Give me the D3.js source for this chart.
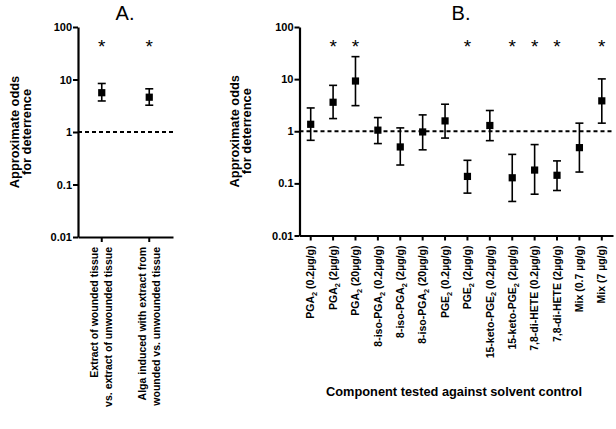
<!DOCTYPE html>
<html><head><meta charset="utf-8">
<script src="https://cdn.jsdelivr.net/npm/d3@7"></script>
<style>body{margin:0;background:#fff}svg{display:block}text{font-family:"Liberation Sans",Arial,sans-serif}</style>
</head><body><svg id="c" width="616" height="429"></svg>
<script>
// Panel A data
const catsA = ["Extract of wounded tissue|vs. extract of unwounded tissue", "Alga induced with extract from|wounded vs. unwounded tissue"];
const oddsA = [5.6, 4.6];
const upperA = [8.4, 6.65];
const lowerA = [3.9, 3.24];
const sigA = [true, true];

// Panel B data
const catsB = ["PGA_2 (0.2µg/g)", "PGA_2 (2µg/g)", "PGA_2 (20µg/g)", "8-iso-PGA_2 (0.2µg/g)", "8-iso-PGA_2 (2µg/g)", "8-iso-PGA_2 (20µg/g)", "PGE_2 (0.2µg/g)", "PGE_2 (2µg/g)", "15-keto-PGE_2 (0.2µg/g)", "15-keto-PGE_2 (2µg/g)", "7,8-di-HETE (0.2µg/g)", "7,8-di-HETE (2µg/g)", "Mix (0.7 µg/g)", "Mix (7 µg/g)"];
const oddsB = [1.36, 3.6, 9.2, 1.05, 0.5, 0.97, 1.58, 0.136, 1.29, 0.128, 0.18, 0.143, 0.485, 3.83];
const upperB = [2.8, 7.6, 27, 1.83, 1.16, 2.06, 3.3, 0.277, 2.5, 0.36, 0.555, 0.27, 1.43, 10.1];
const lowerB = [0.67, 1.75, 3.1, 0.58, 0.225, 0.44, 0.74, 0.065, 0.66, 0.045, 0.062, 0.073, 0.165, 1.43];
const sigB = [false, true, true, false, false, false, false, true, false, true, true, true, false, true];

const yTicks = [0.01, 0.1, 1, 10, 100];
const yTickLabels = ["0.01", "0.1", "1", "10", "100"];
const yTitle = ["Approximate odds", "for deterrence"];
const xTitleB = "Component tested against solvent control";
const panelTitles = ["A.", "B."];

const svg = d3.select("#c");
const font = '"Liberation Sans",Arial,sans-serif';

function subText(sel, str, size) {
  const parts = str.split("_");
  sel.append("tspan").text(parts[0]);
  for (let i = 1; i < parts.length; i++) {
    const p = parts[i];
    sel.append("tspan").attr("font-size", size * 0.7).attr("dy", size * 0.28).text(p[0]);
    sel.append("tspan").attr("dy", -size * 0.28).text(p.slice(1));
  }
}

function panel(cfg) {
  const g = svg.append("g");
  const y = d3.scaleLog().domain([0.01, 100]).range([cfg.bottom, cfg.top]);
  const x = d3.scaleBand().domain(cfg.cats).range([cfg.left, cfg.right]);
  const cx = d => x(d) + x.bandwidth() / 2;

  // reference line at 1
  g.append("line").attr("x1", cfg.left).attr("x2", cfg.right)
    .attr("y1", y(1)).attr("y2", y(1))
    .attr("stroke", "#000").attr("stroke-width", 2).attr("stroke-dasharray", "4,3");

  // y axis
  const ya = g.append("g").attr("transform", `translate(${cfg.left},0)`)
    .call(d3.axisLeft(y).tickValues(yTicks).tickFormat((d, i) => yTickLabels[i]).tickSize(5).tickSizeOuter(0));
  ya.select(".domain").attr("stroke-width", 2.2);
  ya.selectAll(".tick line").attr("stroke-width", 2);
  ya.selectAll(".tick text").attr("font-family", font).attr("font-weight", "bold").attr("font-size", 11).attr("fill", "#000").attr("x", -6);

  // x axis
  const xa = g.append("g").attr("transform", `translate(0,${cfg.bottom})`)
    .call(d3.axisBottom(x).tickSize(5).tickSizeOuter(0).tickFormat(""));
  xa.select(".domain").attr("stroke-width", 2.2);
  xa.selectAll(".tick line").attr("stroke-width", 2);

  // x labels
  cfg.cats.forEach((c, i) => {
    const lines = c.split("|");
    lines.forEach((ln, j) => {
      const off = (j - (lines.length - 1) / 2) * cfg.lineGap;
      const t = g.append("text")
        .attr("transform", `translate(${cx(c) + off},${cfg.bottom + 10}) rotate(-90)`)
        .attr("text-anchor", "end").attr("dy", "0.35em")
        .attr("font-weight", "bold").attr("font-size", cfg.labelSize).attr("fill", "#000");
      subText(t, ln, cfg.labelSize);
    });
  });

  // error bars
  const eb = g.append("g").attr("stroke", "#000").attr("stroke-width", 1.6);
  cfg.cats.forEach((c, i) => {
    eb.append("line").attr("x1", cx(c)).attr("x2", cx(c)).attr("y1", y(cfg.upper[i])).attr("y2", y(cfg.lower[i]));
    eb.append("line").attr("x1", cx(c) - 4).attr("x2", cx(c) + 4).attr("y1", y(cfg.upper[i])).attr("y2", y(cfg.upper[i]));
    eb.append("line").attr("x1", cx(c) - 4).attr("x2", cx(c) + 4).attr("y1", y(cfg.lower[i])).attr("y2", y(cfg.lower[i]));
  });
  g.selectAll("rect.m").data(cfg.odds).join("rect").attr("class", "m")
    .attr("x", (d, i) => cx(cfg.cats[i]) - 3.6).attr("y", d => y(d) - 3.6)
    .attr("width", 7.2).attr("height", 7.2).attr("fill", "#000");

  // significance stars
  cfg.cats.forEach((c, i) => {
    if (cfg.sig[i]) g.append("text").attr("x", cx(c)).attr("y", 53)
      .attr("text-anchor", "middle").attr("font-size", 19).attr("fill", "#000").text("*");
  });

  // y title
  yTitle.forEach((t, j) => {
    g.append("text").attr("transform", `translate(${cfg.yTitleX + j * 12},${(cfg.top + cfg.bottom) / 2}) rotate(-90)`)
      .attr("text-anchor", "middle").attr("dy", "0.35em")
      .attr("font-weight", "bold").attr("font-size", 12.8).attr("fill", "#000").text(t);
  });

  // panel title
  g.append("text").attr("x", cfg.titleX).attr("y", 20).attr("text-anchor", "middle")
    .attr("font-size", 20).attr("fill", "#000").text(cfg.title);
  return g;
}

panel({cats: catsA, odds: oddsA, upper: upperA, lower: lowerA, sig: sigA,
  left: 78, right: 173, top: 27, bottom: 237, lineGap: 14, labelSize: 10.5,
  yTitleX: 15, titleX: 125, title: panelTitles[0]});
panel({cats: catsB, odds: oddsB, upper: upperB, lower: lowerB, sig: sigB,
  left: 299.5, right: 613, top: 27, bottom: 235.5, lineGap: 14, labelSize: 10.5,
  yTitleX: 235, titleX: 461, title: panelTitles[1]});

svg.append("text").attr("x", 454).attr("y", 392).attr("dy", "0.35em").attr("text-anchor", "middle")
  .attr("font-weight", "bold").attr("font-size", 12.8).attr("fill", "#000").text(xTitleB);
</script></body></html>
